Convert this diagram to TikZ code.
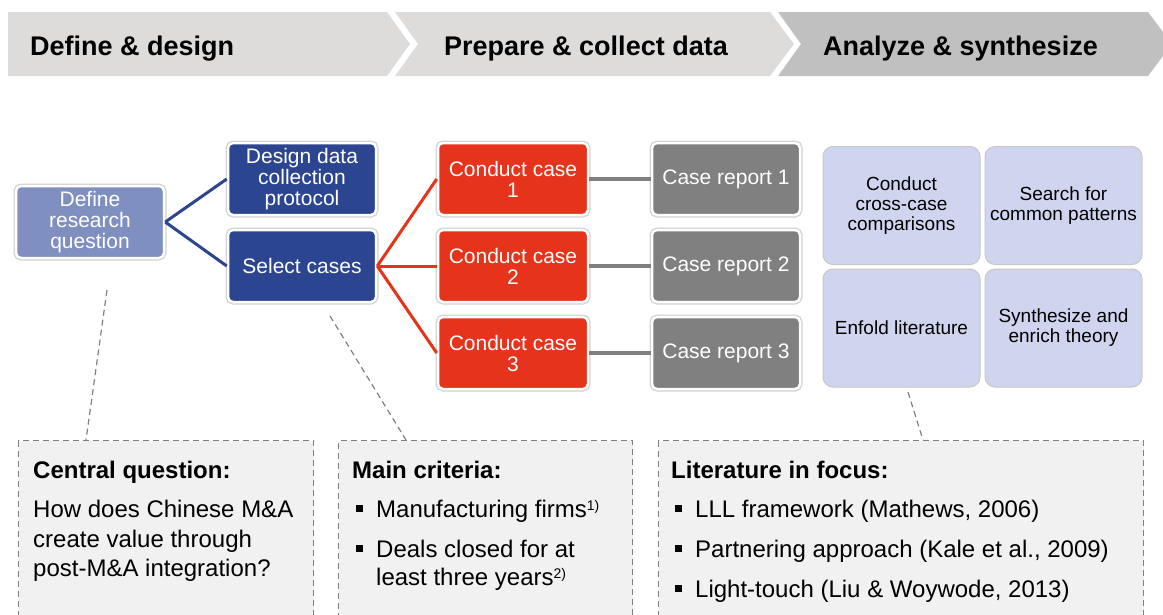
\documentclass[tikz,border=0pt]{standalone}
\usepackage{fontspec}
\setmainfont{Liberation Sans}
\usetikzlibrary{positioning}
\definecolor{hdrgray}{RGB}{222,220,219}
\definecolor{hdrdark}{RGB}{192,192,192}
\definecolor{navy}{RGB}{44,69,145}
\definecolor{slate}{RGB}{127,143,192}
\definecolor{casered}{RGB}{229,51,28}
\definecolor{repgray}{RGB}{128,128,128}
\definecolor{lavender}{RGB}{207,213,238}
\definecolor{notegray}{RGB}{241,241,241}
\tikzset{basic/.style={preaction={draw=black!18,line width=5pt},draw=white,line width=2.5pt,
                       rounded corners=5pt,text=white,align=center,inner sep=0pt,
                       font=\fontsize{21}{21}\selectfont,minimum width=148pt,minimum height=72pt}}
\tikzset{qbox/.style={basic,fill=slate}}
\tikzset{navybox/.style={basic,fill=navy}}
\tikzset{casebox/.style={basic,fill=casered,minimum width=150pt}}
\tikzset{repbox/.style={basic,fill=repgray}}
\tikzset{gridbox/.style={draw=black!22,line width=1pt,fill=lavender,rounded corners=10pt,
                         align=center,inner sep=0pt,font=\fontsize{19}{20}\selectfont,
                         minimum width=157pt,minimum height=118pt}}
\tikzset{notebox/.style={draw=repgray,line width=1.2pt,dash pattern=on 6pt off 4pt,
                         fill=notegray,anchor=north west,minimum height=200pt,inner sep=0pt}}
\tikzset{hdr/.style={anchor=base west,inner sep=0pt,font=\fontsize{27}{27}\selectfont\bfseries}}
\tikzset{txt/.style={anchor=base west,inner sep=0pt,font=\fontsize{24}{24}\selectfont}}
\tikzset{ttl/.style={txt,font=\fontsize{24}{24}\selectfont\bfseries}}
\tikzset{link/.style={line width=3pt}}
\tikzset{callout/.style={draw=repgray,line width=1.2pt,dash pattern=on 6pt off 4pt}}
\newcommand\bul{\hspace*{4pt}\rule[5pt]{7pt}{7pt}\hspace{13pt}}
\newcommand\fnote[1]{\raisebox{7pt}{\fontsize{14}{14}\selectfont #1)}}

\begin{document}
\begin{tikzpicture}[x=1pt,y=-1pt]
    \useasboundingbox (0,0) rectangle (1163,614);

    % phases
    \fill[hdrgray] (8,12) -- (387,12) -- (410,44) -- (387,76) -- (8,76) -- cycle;
    \fill[hdrgray] (395,12) -- (770,12) -- (794,44) -- (770,76) -- (395,76) -- (418,44) -- cycle;
    \fill[hdrdark] (778,12) -- (1148,12) -- (1172,44) -- (1148,76) -- (778,76) -- (801,44) -- cycle;
    \node[hdr] (ph1) at (30,55) {Define \& design};
    \node[hdr] (ph2) at (444,55) {Prepare \& collect data};
    \node[hdr] (ph3) at (823,55) {Analyze \& synthesize};

    \node[qbox] (rq) at (90,222) {Define\\research\\question};
    \node[navybox] (design) at (302,179) {Design data\\collection\\protocol};
    \node[navybox] (select) at (302,266) {Select cases};

    \node[casebox] (case1) at (513,179) {Conduct case\\1};
    \node[casebox] (case2) at (513,266) {Conduct case\\2};
    \node[casebox] (case3) at (513,353) {Conduct case\\3};

    \node[repbox] (rep1) at (726,179) {Case report 1};
    \node[repbox] (rep2) at (726,266) {Case report 2};
    \node[repbox] (rep3) at (726,353) {Case report 3};

    \node[gridbox] (cross) at (901.5,205.5) {Conduct\\cross-case\\comparisons};
    \node[gridbox] (search) at (1063.5,205.5) {Search for\\common patterns};
    \node[gridbox] (enfold) at (901.5,328) {Enfold literature};
    \node[gridbox] (enrich) at (1063.5,328) {Synthesize and\\enrich theory};

    \draw[link,navy] (rq.east) -- (design.west);
    \draw[link,navy] (rq.east) -- (select.west);
    \foreach \c in {1,2,3}{
        \draw[link,casered] (select.east) -- (case\c.west);
        \draw[link,repgray,line width=4pt] (case\c.east) -- (rep\c.west);
    }

    % notes
    \node[notebox,minimum width=295pt] (qnote) at (18,440) {};
    \node[notebox,minimum width=294pt] (cnote) at (338,440) {};
    \node[notebox,minimum width=485pt] (lnote) at (658,440) {};

    \coordinate (rqfoot) at (107,290);
    \coordinate (rqtip) at (86,440);
    \coordinate (selfoot) at (330,316);
    \coordinate (seltip) at (406,440);
    \coordinate (litfoot) at (908,392);
    \coordinate (littip) at (923,440);
    \draw[callout] (rqfoot) -- (rqtip);
    \draw[callout] (selfoot) -- (seltip);
    \draw[callout] (litfoot) -- (littip);

    \node[ttl] (qtitle) at (33,478) {Central question:};
    \node[txt] (q1) at (33,517) {How does Chinese M\&A};
    \node[txt] (q2) at (33,547) {create value through};
    \node[txt] (q3) at (33,576) {post-M\&A integration?};

    \node[ttl] (ctitle) at (352,478) {Main criteria:};
    \node[txt] (c1) at (352,517) {\bul Manufacturing firms\fnote{1}};
    \node[txt] (c2) at (352,557) {\bul Deals closed for at};
    \node[txt] (c3) at (376,585) {least three years\fnote{2}};

    \node[ttl] (ltitle) at (671,478) {Literature in focus:};
    \node[txt] (l1) at (671,517) {\bul LLL framework (Mathews, 2006)};
    \node[txt] (l2) at (671,557) {\bul Partnering approach (Kale et al., 2009)};
    \node[txt] (l3) at (671,597) {\bul Light-touch (Liu \& Woywode, 2013)};
\end{tikzpicture}
\end{document}
